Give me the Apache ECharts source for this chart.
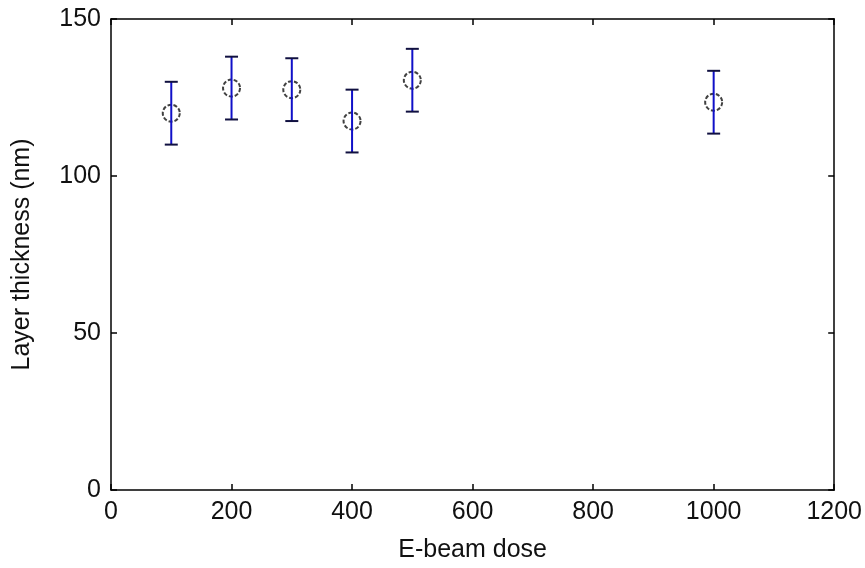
<!DOCTYPE html>
<html>
<head>
<meta charset="utf-8">
<script src="https://cdn.jsdelivr.net/npm/echarts@6/dist/echarts.min.js"></script>
<style>
html,body{margin:0;padding:0;background:#fff;}
#chart{width:865px;height:568px;}
</style>
</head>
<body>
<div id="chart"></div>
<script>
var doses = [100, 200, 300, 400, 500, 1000];
var thickness = [120, 128, 127.5, 117.5, 130.5, 123.5];
var errors = [10, 10, 10, 10, 10, 10];
var xTicks = [0, 200, 400, 600, 800, 1000, 1200];
var yTicks = [0, 50, 100, 150];
var xTitle = 'E-beam dose';
var yTitle = 'Layer thickness (nm)';

var FONT = 'Liberation Sans, Arial, sans-serif';
var points = doses.map(function (d, i) { return [d, thickness[i]]; });
var errData = doses.map(function (d, i) { return [d, thickness[i] - errors[i], thickness[i] + errors[i]]; });

var chart = echarts.init(document.getElementById('chart'));
var axisCommon = {
  axisLine: { show: true, onZero: false, lineStyle: { color: '#000', width: 1.5 } },
  axisTick: { show: true, inside: true, length: 6, lineStyle: { color: '#000', width: 1.5 } },
  splitLine: { show: false }
};
function plain(v) { return String(v); }
chart.setOption({
  animation: false,
  backgroundColor: '#fff',
  grid: { left: 111, right: 29, top: 19, bottom: 77, containLabel: false },
  xAxis: [
    Object.assign({
      type: 'value', position: 'bottom', min: xTicks[0], max: xTicks[xTicks.length - 1], interval: 200,
      name: xTitle, nameLocation: 'middle', nameGap: 48,
      nameTextStyle: { fontFamily: FONT, fontSize: 25, color: '#111' },
      axisLabel: { show: true, margin: 10, fontFamily: FONT, fontSize: 25, color: '#111', formatter: plain }
    }, axisCommon),
    Object.assign({
      type: 'value', position: 'top', min: xTicks[0], max: xTicks[xTicks.length - 1], interval: 200,
      axisLabel: { show: false }
    }, axisCommon)
  ],
  yAxis: [
    Object.assign({
      type: 'value', position: 'left', min: yTicks[0], max: yTicks[yTicks.length - 1], interval: 50,
      name: yTitle, nameLocation: 'middle', nameGap: 76, nameRotate: 90,
      nameTextStyle: { fontFamily: FONT, fontSize: 25, color: '#111' },
      axisLabel: { show: true, margin: 10, fontFamily: FONT, fontSize: 25, color: '#111', formatter: plain }
    }, axisCommon),
    Object.assign({
      type: 'value', position: 'right', min: yTicks[0], max: yTicks[yTicks.length - 1], interval: 50,
      axisLabel: { show: false }
    }, axisCommon)
  ],
  series: [
    {
      type: 'scatter',
      data: points,
      symbol: 'emptyCircle',
      symbolSize: 17,
      itemStyle: { color: '#111', borderColor: '#111', borderWidth: 1.5, borderType: [4, 2] },
      z: 2
    },
    {
      type: 'custom',
      data: errData,
      z: 3,
      renderItem: function (params, api) {
        var x = api.value(0);
        var lo = api.coord([x, api.value(1)]);
        var hi = api.coord([x, api.value(2)]);
        var hw = 6.5;
        return {
          type: 'group',
          children: [
            { type: 'line', shape: { x1: lo[0], y1: lo[1], x2: hi[0], y2: hi[1] }, style: { stroke: '#1010c8', lineWidth: 2 } },
            { type: 'line', shape: { x1: lo[0] - hw, y1: lo[1], x2: lo[0] + hw, y2: lo[1] }, style: { stroke: '#101040', lineWidth: 2 } },
            { type: 'line', shape: { x1: hi[0] - hw, y1: hi[1], x2: hi[0] + hw, y2: hi[1] }, style: { stroke: '#101040', lineWidth: 2 } }
          ]
        };
      }
    }
  ]
});
</script>
</body>
</html>
